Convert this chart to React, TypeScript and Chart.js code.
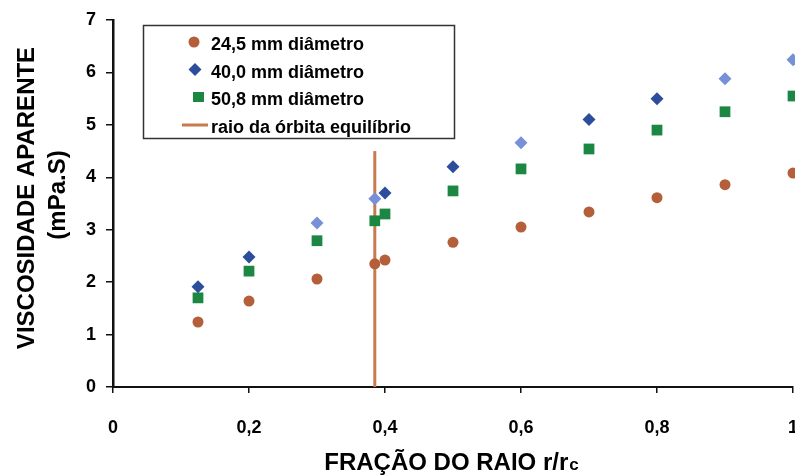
import React, { useEffect, useRef } from "react";
import { Chart, registerables } from "chart.js";

Chart.register(...registerables);

// ---- data ----
const radiusFraction = [0.125, 0.2, 0.3, 0.385, 0.4, 0.5, 0.6, 0.7, 0.8, 0.9, 1.0];
const visc245 = [1.24, 1.64, 2.06, 2.35, 2.42, 2.76, 3.05, 3.34, 3.61, 3.86, 4.08];
const visc400 = [1.91, 2.48, 3.13, 3.59, 3.7, 4.2, 4.66, 5.1, 5.5, 5.88, 6.24];
const visc508 = [1.7, 2.21, 2.79, 3.17, 3.3, 3.74, 4.16, 4.54, 4.9, 5.25, 5.55];
const orbitX = [0.385, 0.385];
const orbitY = [0, 4.5];
const seriesLabels = [
  "24,5 mm diâmetro",
  "40,0 mm diâmetro",
  "50,8 mm diâmetro",
  "raio da órbita equilíbrio",
];
const xTickValues = [0, 0.2, 0.4, 0.6, 0.8, 1];
const xTickLabels = ["0", "0,2", "0,4", "0,6", "0,8", "1"];
const yTickLabels = ["0", "1", "2", "3", "4", "5", "6", "7"];
const xTitleMain = "FRAÇÃO DO RAIO r/r";
const xTitleSub = "c";
const yTitleMain = "VISCOSIDADE APARENTE";
const yTitleUnit = "(mPa.S)";

// ---- styles ----
const FONT = "'Liberation Sans', Arial, sans-serif";
const BROWN = "#b45f3a";
const BLUE_DARK = "#2c4c9c";
const BLUE_LIGHT = "#7890d8";
const GREEN = "#1b8743";
const ORBIT = "#c87a4e";
const blueShade = [BLUE_DARK, BLUE_DARK, BLUE_LIGHT, BLUE_LIGHT, BLUE_DARK, BLUE_DARK, BLUE_LIGHT, BLUE_DARK, BLUE_DARK, BLUE_LIGHT, BLUE_LIGHT];

const pts = (xs: number[], ys: number[]) => xs.map((x, i) => ({ x, y: ys[i] }));

const overlayPlugin = {
  id: "overlay",
  afterDraw(chart: any) {
    const ctx = chart.ctx as CanvasRenderingContext2D;
    ctx.save();
    // legend box
    ctx.strokeStyle = "#333";
    ctx.lineWidth = 1.5;
    ctx.strokeRect(143.5, 25.5, 311, 113);
    const rows = [45, 73, 100, 128];
    ctx.font = `bold 18px ${FONT}`;
    ctx.textAlign = "left";
    ctx.textBaseline = "middle";
    chart.data.datasets.forEach((ds: any, i: number) => {
      const y = rows[i];
      if (i === 0) {
        ctx.fillStyle = BROWN;
        ctx.beginPath();
        ctx.arc(194, y - 3, 5.5, 0, Math.PI * 2);
        ctx.fill();
      } else if (i === 1) {
        ctx.fillStyle = BLUE_DARK;
        ctx.beginPath();
        ctx.moveTo(195, y - 10);
        ctx.lineTo(201.5, y - 3.5);
        ctx.lineTo(195, y + 3);
        ctx.lineTo(188.5, y - 3.5);
        ctx.closePath();
        ctx.fill();
      } else if (i === 2) {
        ctx.fillStyle = GREEN;
        ctx.fillRect(193, y - 8, 11, 10);
      } else {
        ctx.strokeStyle = ORBIT;
        ctx.lineWidth = 3;
        ctx.beginPath();
        ctx.moveTo(182, y - 3);
        ctx.lineTo(208, y - 3);
        ctx.stroke();
      }
      ctx.fillStyle = "#000";
      ctx.fillText(ds.label, 211, y);
    });

    // y titles
    ctx.fillStyle = "#000";
    ctx.font = `bold 24px ${FONT}`;
    ctx.textAlign = "center";
    ctx.textBaseline = "middle";
    ctx.save();
    ctx.translate(27, 198);
    ctx.rotate(-Math.PI / 2);
    ctx.fillText(yTitleMain, 0, 0);
    ctx.restore();
    ctx.save();
    ctx.translate(58, 195);
    ctx.rotate(-Math.PI / 2);
    ctx.fillText(yTitleUnit, 0, 0);
    ctx.restore();

    // x title
    ctx.textAlign = "left";
    ctx.textBaseline = "alphabetic";
    ctx.font = `bold 24px ${FONT}`;
    const w1 = ctx.measureText(xTitleMain).width;
    ctx.font = `bold 17px ${FONT}`;
    const w2 = ctx.measureText(xTitleSub).width;
    const x0 = 451 - (w1 + w2) / 2;
    ctx.font = `bold 24px ${FONT}`;
    ctx.fillText(xTitleMain, x0, 470);
    ctx.font = `bold 17px ${FONT}`;
    ctx.fillText(xTitleSub, x0 + w1 + 1, 470);
    ctx.restore();
  },
};

export default function App() {
  const ref = useRef<HTMLCanvasElement | null>(null);
  useEffect(() => {
    if (!ref.current) return;
    const chart = new Chart(ref.current, {
      type: "scatter",
      data: {
        datasets: [
          {
            label: seriesLabels[0],
            data: pts(radiusFraction, visc245),
            pointStyle: "circle",
            pointRadius: 5.5,
            backgroundColor: BROWN,
            borderColor: BROWN,
            pointBorderWidth: 0,
            clip: false,
            order: 1,
          },
          {
            label: seriesLabels[1],
            data: pts(radiusFraction, visc400),
            pointStyle: "rectRot",
            pointRadius: 6.5,
            backgroundColor: blueShade,
            borderColor: blueShade,
            pointBorderWidth: 0,
            clip: false,
            order: 1,
          },
          {
            label: seriesLabels[2],
            data: pts(radiusFraction, visc508),
            pointStyle: "rect",
            pointRadius: 7.6,
            backgroundColor: GREEN,
            borderColor: GREEN,
            pointBorderWidth: 0,
            clip: false,
            order: 1,
          },
          {
            type: "line",
            label: seriesLabels[3],
            data: pts(orbitX, orbitY),
            borderColor: ORBIT,
            backgroundColor: ORBIT,
            borderWidth: 3,
            pointRadius: 0,
            showLine: true,
            order: 10,
          } as any,
        ],
      },
      options: {
        animation: false,
        responsive: false,
        devicePixelRatio: 1,
        layout: { autoPadding: false, padding: { top: 20, right: 2, left: 0, bottom: 0 } },
        plugins: {
          legend: { display: false },
          tooltip: { enabled: false },
        },
        scales: {
          x: {
            type: "linear",
            min: 0,
            max: 1,
            afterBuildTicks: (scale: any) => {
              scale.ticks = xTickValues.map((v) => ({ value: v }));
            },
            ticks: {
              callback: (v: any) => {
                const i = xTickValues.findIndex((t) => Math.abs(t - Number(v)) < 1e-6);
                return i >= 0 ? xTickLabels[i] : "";
              },
              color: "#000",
              font: { family: FONT, size: 18, weight: "bold" },
              padding: 24,
              maxRotation: 0,
              autoSkip: false,
            },
            grid: {
              display: true,
              drawOnChartArea: false,
              drawTicks: true,
              tickLength: 6,
              color: "#111",
              lineWidth: 1.5,
            },
            border: { display: true, color: "#111", width: 2 },
            afterFit: (scale: any) => {
              scale.height = 88;
              scale.paddingLeft = 0;
              scale.paddingRight = 0;
            },
          },
          y: {
            type: "linear",
            min: 0,
            max: 7,
            ticks: {
              stepSize: 1,
              callback: (v: any) => yTickLabels[Math.round(Number(v))] ?? "",
              color: "#000",
              font: { family: FONT, size: 18, weight: "bold" },
              padding: 10,
            },
            grid: {
              display: true,
              drawOnChartArea: false,
              drawTicks: true,
              tickLength: 7,
              color: "#111",
              lineWidth: 1.5,
            },
            border: { display: true, color: "#111", width: 2.5 },
            afterFit: (scale: any) => {
              scale.width = 113;
              scale.paddingTop = 0;
              scale.paddingBottom = 0;
            },
          },
        },
      } as any,
      plugins: [overlayPlugin],
    });
    return () => chart.destroy();
  }, []);
  return (
    <div style={{ position: "absolute", left: 0, top: 0, width: 795, height: 475, background: "#fff" }}>
      <canvas ref={ref} width={795} height={475} style={{ display: "block" }} />
    </div>
  );
}
